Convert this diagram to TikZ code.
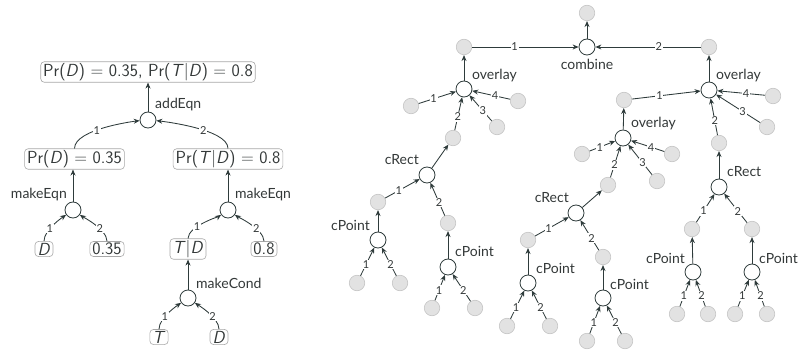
\documentclass[tikz,border=0pt]{standalone}
\usepackage{fontspec}
\newfontfamily\latofont{Lato}
\usetikzlibrary{arrows.meta}
\definecolor{ec}{HTML}{2E3B3B}
\definecolor{gfill}{HTML}{E2E2E2}
\definecolor{gdraw}{HTML}{C4C4C4}
\definecolor{bdraw}{HTML}{A8A8A8}
\definecolor{tc}{HTML}{333838}
\begin{document}
\begin{tikzpicture}[x=1pt,y=-1pt,
  circ/.style={circle,draw=ec,line width=0.8pt,fill=white,minimum size=16pt,inner sep=0pt},
  gnode/.style={circle,draw=gdraw,fill=gfill,line width=0.6pt,minimum size=15.5pt,inner sep=0pt},
  vbox/.style={draw=bdraw,rounded corners=3.5pt,line width=0.6pt,inner xsep=2.5pt,inner ysep=1.5pt,font=\sffamily\fontsize{17.5}{19}\selectfont,text=tc},
  fn/.style={font=\latofont\fontsize{14}{16}\selectfont,text=tc,inner sep=0pt},
  edge/.style={draw=ec,line width=0.85pt,-{Stealth[length=6pt,width=5pt]}},
  lbl/.style={font=\latofont\fontsize{11}{12}\selectfont,text=tc,fill=white,inner sep=0.8pt},
  cedge/.style={edge,out=90,out distance=#1,in distance=2pt},
]
\useasboundingbox (0,0) rectangle (802,350);
% ---------------- left tree
\node[vbox] (top) at (148,72) {Pr(\textit{D}) = 0.35, Pr(\textit{T}|\textit{D}) = 0.8};
\node[circ] (ae) at (148,120) {};
\node[fn,anchor=west] (aeL) at (155,105) {addEqn};
\node[vbox] (pd) at (74.5,159) {Pr(\textit{D}) = 0.35};
\node[vbox] (ptd) at (228,159) {Pr(\textit{T}|\textit{D}) = 0.8};
\node[circ] (me1) at (73,210) {};
\node[fn,anchor=east] (me1L) at (67,195) {makeEqn};
\node[circ] (me2) at (228,210) {};
\node[fn,anchor=west] (me2L) at (235,195) {makeEqn};
\node[vbox] (vD) at (44,249) {\textit{D}};
\node[vbox] (v35) at (107,249) {0.35};
\node[vbox] (vTD) at (188,249) {\textit{T}|\textit{D}};
\node[vbox] (v8) at (264,249) {0.8};
\node[circ] (mc) at (188,298) {};
\node[fn,anchor=west] (mcL) at (196,283) {makeCond};
\node[vbox] (vT) at (159,337) {\textit{T}};
\node[vbox] (vD2) at (219,337) {\textit{D}};

\draw[edge] (ae) -- (ae |- top.south);
\draw[cedge=20pt,in=185] (pd.north) to node[lbl,pos=0.4]{1} (ae);
\draw[cedge=20pt,in=-5] (ptd.north) to node[lbl,pos=0.4]{2} (ae);
\draw[edge] (me1) -- (me1 |- pd.south);
\draw[edge] (me2) -- (me2 |- ptd.south);
\draw[cedge=12pt,in=215] (vD.north) to node[lbl,pos=0.35]{1} (me1);
\draw[cedge=12pt,in=-35] (v35.north) to node[lbl,pos=0.35]{2} (me1);
\draw[cedge=12pt,in=215] (vTD.north) to node[lbl,pos=0.35]{1} (me2);
\draw[cedge=12pt,in=-35] (v8.north) to node[lbl,pos=0.35]{2} (me2);
\draw[edge] (mc) -- (mc |- vTD.south);
\draw[cedge=12pt,in=215] (vT.north) to node[lbl,pos=0.35]{1} (mc);
\draw[cedge=12pt,in=-35] (vD2.north) to node[lbl,pos=0.35]{2} (mc);

% ---------------- right tree
\node[gnode] (gtop) at (587,13) {};
\node[circ] (comb) at (587,47) {};
\node[fn] (combL) at (587,64) {combine};
\node[gnode] (gL) at (464,47) {};
\node[gnode] (gR) at (709,47) {};
\draw[edge] (comb) -- (gtop);
\draw[edge] (gL) -- node[lbl,pos=0.4]{1} (comb);
\draw[edge] (gR) -- node[lbl,pos=0.4]{2} (comb);

% left overlay
\node[circ] (ovL) at (464,89) {};
\node[fn,anchor=west] (ovLL) at (472,76) {overlay};
\node[gnode] (a1) at (411,106) {};
\node[gnode] (a2) at (453,138) {};
\node[gnode] (a3) at (497,127) {};
\node[gnode] (a4) at (518,101) {};
\draw[edge] (ovL) -- (gL);
\foreach \i in {1,2,3,4} \draw[edge] (a\i) -- node[lbl,pos=0.4]{\i} (ovL);

% left cRect
\node[circ] (crL) at (427,175) {};
\node[fn,anchor=east] (crLL) at (419,160) {cRect};
\draw[edge] (crL) -- (a2);
\node[gnode] (b1) at (378,202) {};
\node[gnode] (b2) at (448,223) {};
\foreach \i in {1,2} \draw[edge] (b\i) -- node[lbl,pos=0.4]{\i} (crL);

\node[circ] (cpA) at (378,240) {};
\node[fn,anchor=east] (cpAL) at (370,225) {cPoint};
\draw[edge] (cpA) -- (b1);
\node[gnode] (c1) at (357,283) {};
\node[gnode] (c2) at (400,283) {};
\foreach \i in {1,2} \draw[edge] (c\i) -- node[lbl,pos=0.4]{\i} (cpA);

\node[circ] (cpB) at (448,267) {};
\node[fn,anchor=west] (cpBL) at (455,251) {cPoint};
\draw[edge] (cpB) -- (b2);
\node[gnode] (d1) at (432,308) {};
\node[gnode] (d2) at (475,308) {};
\foreach \i in {1,2} \draw[edge] (d\i) -- node[lbl,pos=0.4]{\i} (cpB);

% right overlay
\node[circ] (ovR) at (709,90) {};
\node[fn,anchor=west] (ovRL) at (716,76) {overlay};
\draw[edge] (ovR) -- (gR);
\node[gnode] (e1) at (624,100) {};
\node[gnode] (e2) at (719,143) {};
\node[gnode] (e3) at (767,127) {};
\node[gnode] (e4) at (773,96) {};
\foreach \i in {1,2,3,4} \draw[edge] (e\i) -- node[lbl,pos=0.4]{\i} (ovR);

% middle overlay
\node[circ] (ovM) at (623,138) {};
\node[fn,anchor=west] (ovML) at (631,124) {overlay};
\draw[edge] (ovM) -- (e1);
\node[gnode] (f1) at (582,154) {};
\node[gnode] (f2) at (608,185) {};
\node[gnode] (f3) at (657,181) {};
\node[gnode] (f4) at (672,154) {};
\foreach \i in {1,2,3,4} \draw[edge] (f\i) -- node[lbl,pos=0.4]{\i} (ovM);

% middle cRect
\node[circ] (crM) at (576,213) {};
\node[fn,anchor=east] (crML) at (569,198) {cRect};
\draw[edge] (crM) -- (f2);
\node[gnode] (h1) at (528,240) {};
\node[gnode] (h2) at (603,257) {};
\foreach \i in {1,2} \draw[edge] (h\i) -- node[lbl,pos=0.4]{\i} (crM);

\node[circ] (cpC) at (528,283) {};
\node[fn,anchor=west] (cpCL) at (536,268) {cPoint};
\draw[edge] (cpC) -- (h1);
\node[gnode] (i1) at (507,326) {};
\node[gnode] (i2) at (550,326) {};
\foreach \i in {1,2} \draw[edge] (i\i) -- node[lbl,pos=0.4]{\i} (cpC);

\node[circ] (cpD) at (603,298) {};
\node[fn,anchor=west] (cpDL) at (610,284) {cPoint};
\draw[edge] (cpD) -- (h2);
\node[gnode] (j1) at (587,341) {};
\node[gnode] (j2) at (625,341) {};
\foreach \i in {1,2} \draw[edge] (j\i) -- node[lbl,pos=0.4]{\i} (cpD);

% right cRect
\node[circ] (crR) at (719,187) {};
\node[fn,anchor=west] (crRL) at (727,172) {cRect};
\draw[edge] (crR) -- (e2);
\node[gnode] (k1) at (692,229) {};
\node[gnode] (k2) at (752,229) {};
\foreach \i in {1,2} \draw[edge] (k\i) -- node[lbl,pos=0.4]{\i} (crR);

\node[circ] (cpE) at (693,272) {};
\node[fn,anchor=east] (cpEL) at (685,258) {cPoint};
\draw[edge] (cpE) -- (k1);
\node[gnode] (l1) at (677,314) {};
\node[gnode] (l2) at (708,314) {};
\foreach \i in {1,2} \draw[edge] (l\i) -- node[lbl,pos=0.4]{\i} (cpE);

\node[circ] (cpF) at (752,272) {};
\node[fn,anchor=west] (cpFL) at (759,258) {cPoint};
\draw[edge] (cpF) -- (k2);
\node[gnode] (m1) at (735,314) {};
\node[gnode] (m2) at (767,314) {};
\foreach \i in {1,2} \draw[edge] (m\i) -- node[lbl,pos=0.4]{\i} (cpF);
\end{tikzpicture}
\end{document}
